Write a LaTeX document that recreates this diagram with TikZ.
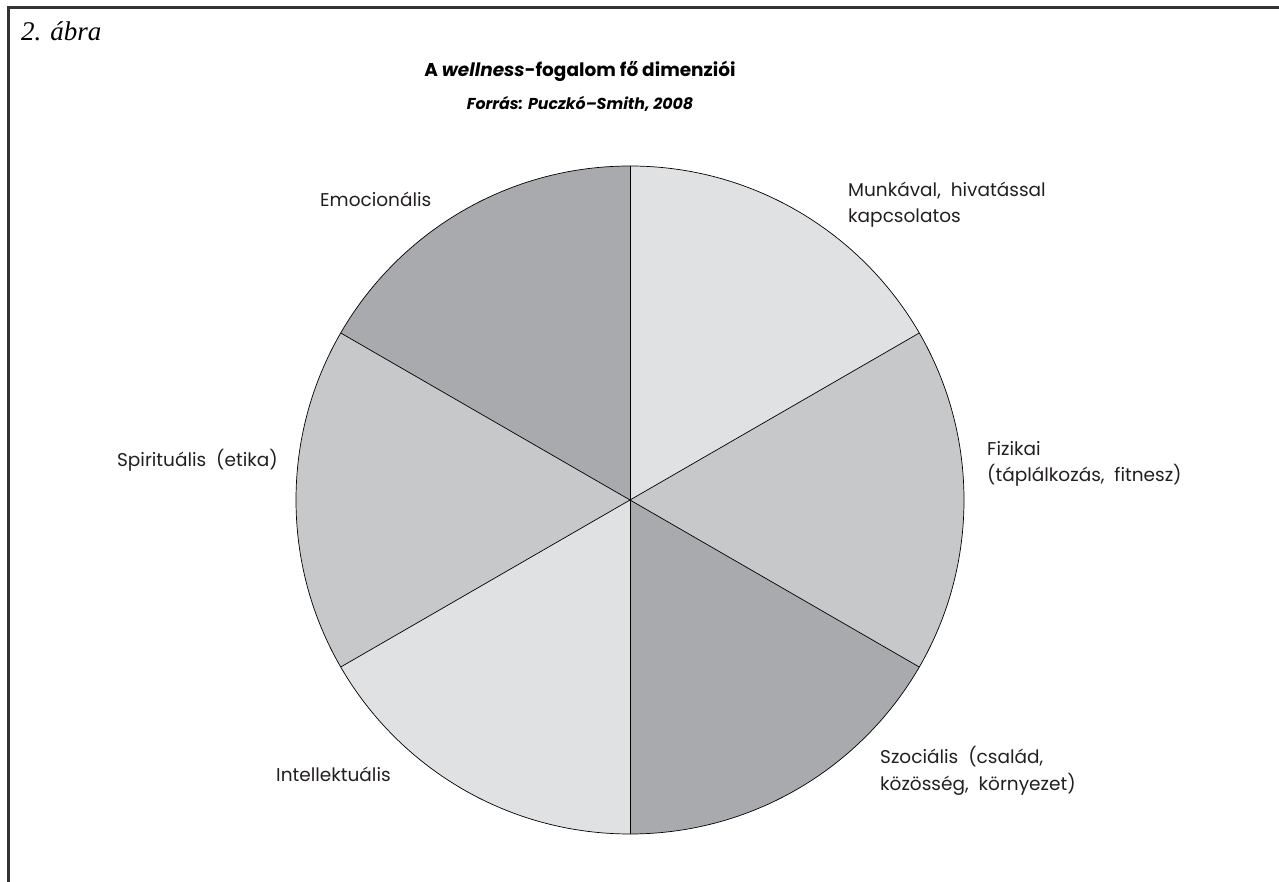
\documentclass[tikz,border=0pt]{standalone}
\usepackage{fontspec}
\setmainfont{Poppins}
\newfontfamily\serifit{Liberation Serif}
\definecolor{slLight}{HTML}{E0E1E3}
\definecolor{slMid}{HTML}{C7C8CA}
\definecolor{slDark}{HTML}{A9AAAD}
\definecolor{frameC}{HTML}{333333}
\definecolor{txt}{HTML}{231F20}
\begin{document}
\begin{tikzpicture}[x=1pt,y=1pt,
  lbl/.style={inner sep=0pt, align=left, text=txt, font=\fontsize{18.5}{26.5}\selectfont},
  slice/.style={draw=black, line width=0.7pt}]
\useasboundingbox (0,0) rectangle (1279,881);
% frame (top and left)
\draw[frameC, line width=3pt] (8,-2) -- (8,873) -- (1281,873);
\node[inner sep=0pt, anchor=base west, font=\serifit\itshape\fontsize{27}{30}\selectfont] (fig) at (21,840) {2. ábra};
\node[inner sep=0pt, anchor=base, font=\bfseries\fontsize{18.5}{22}\selectfont] (title) at (580,804) {A \textit{wellness}-fogalom fő dimenziói};
\node[inner sep=0pt, anchor=base, font=\bfseries\itshape\fontsize{15.8}{18}\selectfont] (src) at (580,771) {Forrás: Puczkó–Smith, 2008};
% pie
\coordinate (C) at (630,381);
\def\R{334}
\fill[slLight] (C) -- ++(30:\R) arc[start angle=30, end angle=90, radius=\R] -- cycle;
\fill[slMid] (C) -- ++(-30:\R) arc[start angle=-30, end angle=30, radius=\R] -- cycle;
\fill[slDark] (C) -- ++(-90:\R) arc[start angle=-90, end angle=-30, radius=\R] -- cycle;
\fill[slLight] (C) -- ++(-150:\R) arc[start angle=-150, end angle=-90, radius=\R] -- cycle;
\fill[slMid] (C) -- ++(150:\R) arc[start angle=150, end angle=210, radius=\R] -- cycle;
\fill[slDark] (C) -- ++(90:\R) arc[start angle=90, end angle=150, radius=\R] -- cycle;
\foreach \a in {90,30,-30,-90,-150,150} \draw[slice] (C) -- ++(\a:\R);
\draw[slice] (C) circle[radius=\R];
% labels (multi-line nodes: base anchor is the last line)
\node[lbl, anchor=base west] (munka) at (848,658) {Munkával,\ \ hivatással\\kapcsolatos};
\node[lbl, anchor=base west] (fiz) at (987,399) {Fizikai\\(táplálkozás,\ \ fitnesz)};
\node[lbl, anchor=base west] (szoc) at (880,91) {Szociális\ \ (család,\\közösség,\ \ környezet)};
\node[lbl, anchor=base west] (intel) at (276,100) {Intellektuális};
\node[lbl, anchor=base east] (spir) at (278,414) {Spirituális\ \ (etika)};
\node[lbl, anchor=base west] (emo) at (320,674) {Emocionális};
\end{tikzpicture}
\end{document}
